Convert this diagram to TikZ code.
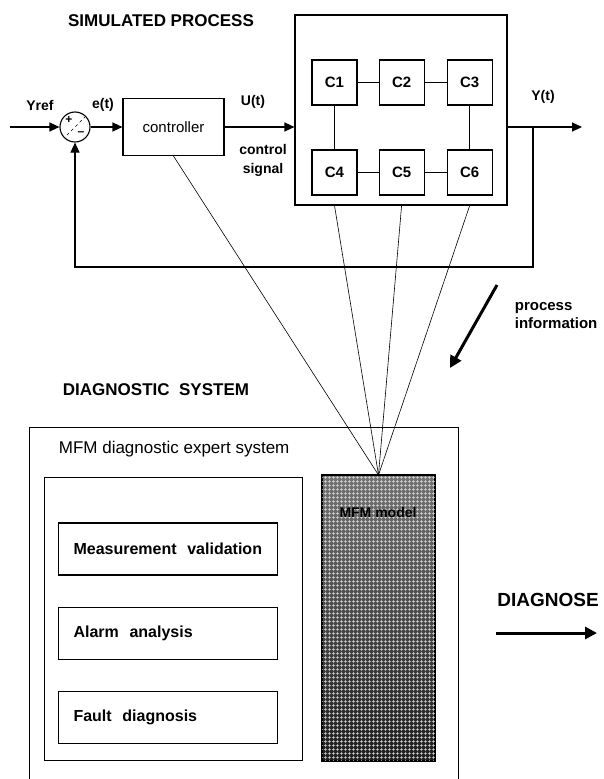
\documentclass[tikz,border=0pt]{standalone}
\usepackage{fontspec}
\setmainfont{Liberation Sans}
\usetikzlibrary{arrows.meta,positioning,patterns}

\pgfdeclarepatternformonly{mesh}{\pgfqpoint{0pt}{0pt}}{\pgfqpoint{4pt}{4pt}}{\pgfqpoint{4pt}{4pt}}{%
  \pgfsetlinewidth{0.6pt}%
  \pgfpathmoveto{\pgfqpoint{0pt}{2pt}}\pgfpathlineto{\pgfqpoint{4pt}{2pt}}%
  \pgfpathmoveto{\pgfqpoint{2pt}{0pt}}\pgfpathlineto{\pgfqpoint{2pt}{4pt}}%
  \pgfusepath{stroke}}

\begin{document}
\begin{tikzpicture}[x=1pt,y=-1pt,line width=1.1pt,
 title/.style={font=\fontsize{17}{20}\selectfont\bfseries},
 lbl/.style={font=\fontsize{14}{19}\selectfont\bfseries,align=center},
 blk/.style={draw,minimum width=45pt,minimum height=45pt,inner sep=0pt,font=\fontsize{15}{18}\selectfont\bfseries},
 task/.style={draw,anchor=west,text width=189pt,inner xsep=15pt,minimum height=52pt,align=left,font=\fontsize{16}{18}\selectfont\bfseries},
 link/.style={line width=0.6pt},
 arr/.style={-{Triangle[length=10pt,width=9pt]}},
 fat/.style={line width=3pt,-{Triangle[length=12pt,width=12pt]}}]

\useasboundingbox (0,0) rectangle (603,779);
\clip (0,0) rectangle (603,779);

\node[title] (simtitle) at (161,21) {SIMULATED PROCESS};

\node[draw,circle,minimum size=30pt,inner sep=0pt] (sum) at (75,127) {};
\draw[dashed,line width=0.6pt] (sum.north east) -- (sum.south west);
\node[font=\fontsize{12}{12}\selectfont\bfseries] (plus) at (69,120) {+};
\node[font=\fontsize{12}{12}\selectfont\bfseries] (minus) at (81,134) {--};
\node[draw,minimum width=101pt,minimum height=57pt,font=\fontsize{15}{18}\selectfont] (ctrl) at (173.5,127) {controller};

\node[draw,minimum width=212pt,minimum height=190pt] (proc) at (401,110) {};
\node[blk] (c1) at (334.5,82.5) {C1};
\node[blk,right=21pt of c1] (c2) {C2};
\node[blk,right=22pt of c2] (c3) {C3};
\node[blk] (c4) at (334.5,172.5) {C4};
\node[blk,right=21pt of c4] (c5) {C5};
\node[blk,right=22pt of c5] (c6) {C6};
\draw[link] (c1) -- (c2); \draw[link] (c2) -- (c3);
\draw[link] (c1) -- (c4); \draw[link] (c3) -- (c6);
\draw (c4) -- (c5); \draw (c5) -- (c6);

\node[lbl] (yref) at (40,105) {Yref};
\node[lbl] (et) at (103,105) {e(t)};
\node[lbl] (ut) at (253,102) {U(t)};
\node[lbl] (ctrlsig) at (263,160) {control\\signal};
\node[lbl] (yt) at (543,97) {Y(t)};

\coordinate (in) at (10,127);
\coordinate (out) at (582,127);
\coordinate (branch) at (533,127);
\coordinate (fbr) at (533,267);
\coordinate (fbl) at (75,267);
\draw[arr] (in) -- (sum.west);
\draw[arr] (sum.east) -- (ctrl.west);
\draw[arr] (ctrl.east) -- (ctrl.east -| proc.west);
\draw[arr] (proc.east |- out) -- (out);
\draw[arr] (branch) -- (fbr) -- (fbl) -- (sum.south);

\coordinate (pitop) at (497,285);
\coordinate (pibot) at (450,368);
\draw[fat] (pitop) -- (pibot);
\node[lbl,align=left,anchor=west,font=\fontsize{15}{18}\selectfont\bfseries] (procinfo) at (511,316) {process\\information};

\node[title] (diagtitle) at (156,390) {DIAGNOSTIC\ \ SYSTEM};
\node[draw,minimum width=429pt,minimum height=380pt,anchor=north west] (diag) at (29,427) {};
\node[font=\fontsize{17}{19}\selectfont,anchor=west] (expert) at (55,449) {MFM diagnostic expert system};
\node[draw,minimum width=258pt,minimum height=283pt,anchor=north west] (tasks) at (44,477) {};
\node[task] (meas) at (58,549) {Measurement\ \ validation};
\node[task,below=31pt of meas] (alarm) {Alarm\ \ analysis};
\node[task,below=31pt of alarm] (fault) {Fault\ \ diagnosis};

\node[draw,top color=black!55,bottom color=black!88,minimum width=113pt,minimum height=285pt,anchor=north] (mfm) at (378.5,475) {};
\fill[pattern=mesh,pattern color=black!12] (mfm.north west) rectangle (mfm.south east);
\draw (mfm.north west) rectangle (mfm.south east);
\node[font=\fontsize{14}{16}\selectfont\bfseries] (mfmlbl) at (378,512) {MFM model};

\draw[link] (ctrl.south) -- (mfm.north);
\foreach \c in {c4,c5,c6}
  \draw[link] (\c |- proc.south) -- (mfm.north);

\node[font=\fontsize{19}{22}\selectfont\bfseries] (diagnose) at (548,600) {DIAGNOSE};
\coordinate (dgl) at (496,633);
\coordinate (dgr) at (597,633);
\draw[fat] (dgl) -- (dgr);
\end{tikzpicture}
\end{document}
